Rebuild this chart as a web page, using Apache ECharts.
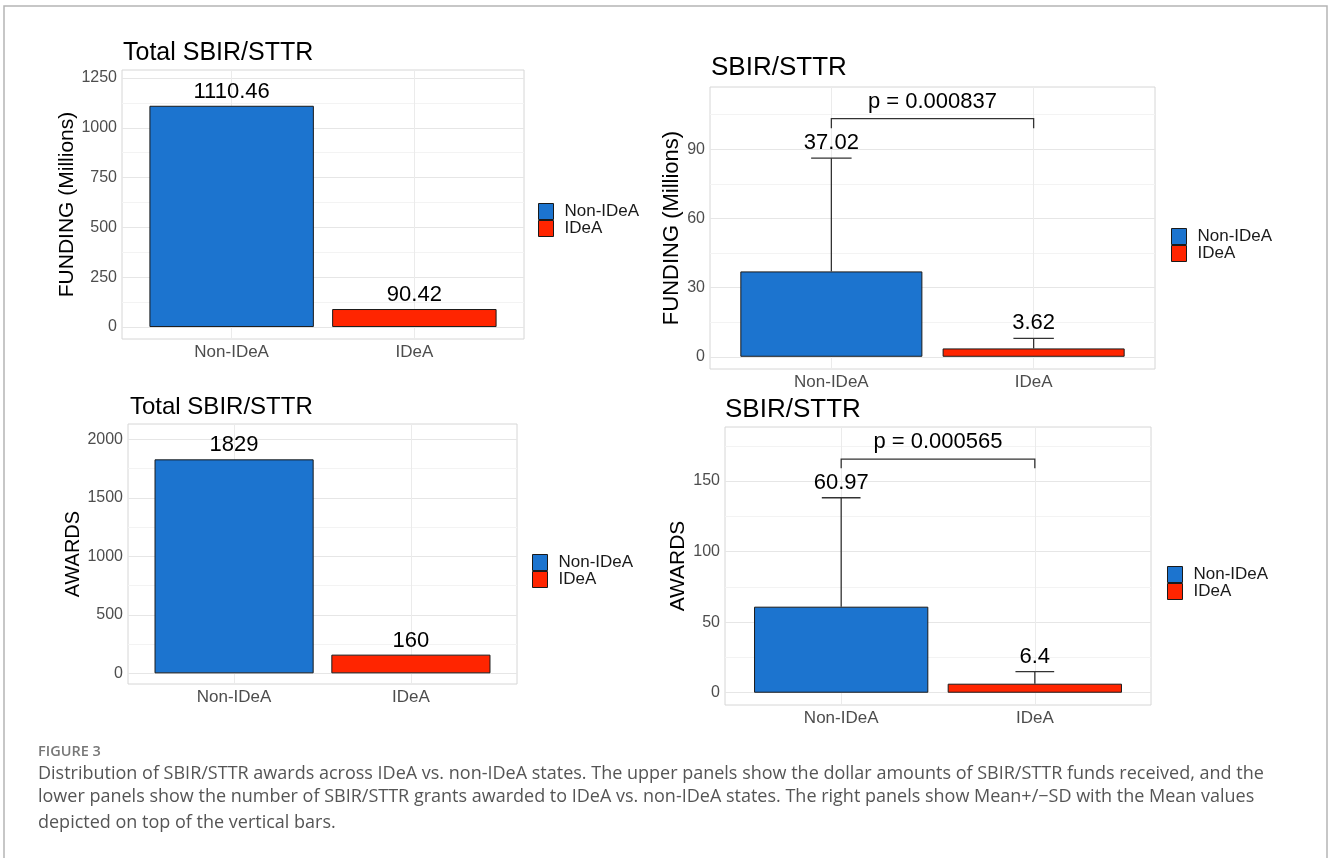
<!DOCTYPE html>
<html>
<head>
<meta charset="utf-8">
<title>SBIR/STTR IDeA vs non-IDeA</title>
<script src="https://cdn.jsdelivr.net/npm/echarts@6/dist/echarts.min.js"></script>
<style>
  html, body { margin: 0; padding: 0; background: #fff; }
  #main { width: 1328px; height: 858px; }
</style>
</head>
<body>
<div id="main"></div>
<script>
// groups on the x axis
var groups = ['Non-IDeA', 'IDeA'];

// left panels: totals
var totalFunding = [1110.46, 90.42];
var totalAwards = [1829, 160];

// right panels: mean and SD
var meanFunding = [37.02, 3.62];
var sdFunding = [49.1, 4.4];
var meanAwards = [60.97, 6.4];
var sdAwards = [77.2, 8.5];

// p-value brackets (tip, top) in data units
var pFunding = 'p = 0.000837';
var bracketFunding = [99.1, 103.3];
var pAwards = 'p = 0.000565';
var bracketAwards = [159, 165.6];

// tick labels (major) and all grid lines (major + minor)
var ticksTotalFunding = [0, 250, 500, 750, 1000, 1250];
var linesTotalFunding = [0, 125, 250, 375, 500, 625, 750, 875, 1000, 1125, 1250];
var ticksMeanFunding = [0, 30, 60, 90];
var linesMeanFunding = [0, 15, 30, 45, 60, 75, 90, 105];
var ticksTotalAwards = [0, 500, 1000, 1500, 2000];
var linesTotalAwards = [0, 250, 500, 750, 1000, 1250, 1500, 1750, 2000];
var ticksMeanAwards = [0, 50, 100, 150];
var linesMeanAwards = [0, 25, 50, 75, 100, 125, 150, 175];

var colors = ['#1c74cf', '#ff2500'];
var FONT = '"Liberation Sans", Arial, sans-serif';

var option = {
  animation: false,
  backgroundColor: '#fff',
  textStyle: { fontFamily: FONT },
  title: [],
  legend: [],
  grid: [],
  xAxis: [],
  yAxis: [],
  series: [],
  graphic: []
};

function addPanel(p) {
  var i = option.grid.length;
  option.grid.push({
    left: p.left, top: p.top, width: p.width, height: p.height,
    show: true, borderColor: '#d6d6d6', borderWidth: 1, backgroundColor: '#fff',
    containLabel: false, outerBoundsMode: 'none'
  });
  option.title.push({
    text: p.title, left: p.titleLeft, top: p.titleTop, padding: 0,
    textStyle: { fontSize: p.titleSize, fontWeight: 'normal', color: '#000', fontFamily: FONT }
  });
  option.legend.push({
    left: p.legendLeft, top: p.legendTop, orient: 'vertical', padding: 0,
    itemWidth: 15, itemHeight: 16, itemGap: 0, icon: 'rect', selectedMode: false,
    data: groups,
    itemStyle: { borderColor: '#1a1a1a', borderWidth: 1 },
    textStyle: { fontSize: 17, color: '#1a1a1a', lineHeight: 16, padding: [0, 0, 0, 6], fontFamily: FONT }
  });
  option.xAxis.push({
    gridIndex: i, type: 'value', min: 0.4, max: 2.6,
    axisLine: { show: false },
    axisTick: { show: false, customValues: [1, 2] },
    axisLabel: {
      customValues: [1, 2], margin: 5, fontSize: 17, color: '#4d4d4d',
      formatter: function (v) { return groups[Math.round(v) - 1]; }
    },
    splitLine: { show: true, lineStyle: { color: '#ebebeb', width: 1 } }
  });
  option.yAxis.push({
    gridIndex: i, type: 'value', min: p.min, max: p.max,
    name: p.yName, nameLocation: 'middle', nameGap: p.nameGap,
    nameTextStyle: { fontSize: p.nameSize, color: '#000', fontFamily: FONT },
    axisLine: { show: false },
    axisTick: { show: false, customValues: p.lines },
    axisLabel: {
      customValues: p.ticks, margin: 5, fontSize: 16, color: '#4d4d4d',
      formatter: function (v) { return String(v); }
    },
    splitLine: { show: true, lineStyle: { color: ['#e6e6e6', '#f3f3f3'], width: 1 } }
  });

  groups.forEach(function (g, k) {
    var s = {
      type: 'bar', name: g, xAxisIndex: i, yAxisIndex: i,
      data: [[k + 1, p.values[k]]],
      barWidth: '90%', barGap: '-100%',
      itemStyle: { color: colors[k], borderColor: '#1a1a1a', borderWidth: 1 }
    };
    if (!p.sd) {
      s.label = {
        show: true, position: 'top', distance: 3, fontSize: 22, color: '#000', fontFamily: FONT,
        formatter: function (d) { return String(d.value[1]); }
      };
    }
    option.series.push(s);
  });

  if (p.sd) {
    // error bars (mean to mean + SD) with the mean written above
    option.series.push({
      type: 'custom', xAxisIndex: i, yAxisIndex: i, z: 5, silent: true,
      data: groups.map(function (g, k) { return [k + 1, p.values[k], p.sd[k]]; }),
      renderItem: function (params, api) {
        var x = api.value(0), m = api.value(1), s = api.value(2);
        var base = api.coord([x, m]);
        var top = api.coord([x, m + s]);
        var l = api.coord([x - 0.1, m + s]);
        var r = api.coord([x + 0.1, m + s]);
        var st = { stroke: '#333', lineWidth: 1.3 };
        return {
          type: 'group', children: [
            { type: 'line', shape: { x1: base[0], y1: base[1], x2: top[0], y2: top[1] }, style: st },
            { type: 'line', shape: { x1: l[0], y1: l[1], x2: r[0], y2: r[1] }, style: st },
            { type: 'text', x: top[0], y: top[1] - 4,
              style: { text: String(m), fontSize: 22, fontFamily: FONT, fill: '#000', align: 'center', verticalAlign: 'bottom' } }
          ]
        };
      }
    });
    // significance bracket
    option.series.push({
      type: 'custom', xAxisIndex: i, yAxisIndex: i, z: 5, silent: true,
      data: [[1, 2, p.bracket[0], p.bracket[1]]],
      renderItem: function (params, api) {
        var a = api.coord([api.value(0), api.value(2)]);
        var b = api.coord([api.value(0), api.value(3)]);
        var c = api.coord([api.value(1), api.value(3)]);
        var d = api.coord([api.value(1), api.value(2)]);
        return {
          type: 'group', children: [
            { type: 'polyline', shape: { points: [a, b, c, d] }, style: { stroke: '#333', lineWidth: 1.3, fill: null } },
            { type: 'text', x: (b[0] + c[0]) / 2, y: b[1] - 6,
              style: { text: p.pText, fontSize: 22, fontFamily: FONT, fill: '#000', align: 'center', verticalAlign: 'bottom' } }
          ]
        };
      }
    });
  }
}

addPanel({
  title: 'Total SBIR/STTR', titleLeft: 123, titleTop: 41, titleSize: 25,
  left: 122, top: 70, width: 402, height: 269, min: -60, max: 1290,
  ticks: ticksTotalFunding, lines: linesTotalFunding,
  yName: 'FUNDING (Millions)', nameGap: 37, nameSize: 21,
  values: totalFunding, legendLeft: 538, legendTop: 203
});
addPanel({
  title: 'SBIR/STTR', titleLeft: 711, titleTop: 55, titleSize: 26,
  left: 710, top: 87, width: 445, height: 282, min: -5.3, max: 117,
  ticks: ticksMeanFunding, lines: linesMeanFunding,
  yName: 'FUNDING (Millions)', nameGap: 24, nameSize: 22,
  values: meanFunding, sd: sdFunding, bracket: bracketFunding, pText: pFunding,
  legendLeft: 1171, legendTop: 228
});
addPanel({
  title: 'Total SBIR/STTR', titleLeft: 130, titleTop: 395, titleSize: 24,
  left: 128, top: 424, width: 389, height: 260, min: -91, max: 2131,
  ticks: ticksTotalAwards, lines: linesTotalAwards,
  yName: 'AWARDS', nameGap: 35, nameSize: 20,
  values: totalAwards, legendLeft: 532, legendTop: 554
});
addPanel({
  title: 'SBIR/STTR', titleLeft: 725, titleTop: 397, titleSize: 26,
  left: 725, top: 427, width: 426, height: 278, min: -8.7, max: 188.3,
  ticks: ticksMeanAwards, lines: linesMeanAwards,
  yName: 'AWARDS', nameGap: 36, nameSize: 21,
  values: meanAwards, sd: sdAwards, bracket: bracketAwards, pText: pAwards,
  legendLeft: 1167, legendTop: 566
});

// figure frame and caption
var CAP = '"Open Sans", "Noto Sans", sans-serif';
option.graphic = [
  { type: 'polyline', silent: true, shape: { points: [[4, 858], [4, 6], [1327, 6], [1327, 858]] },
    style: { stroke: '#b5b5b5', lineWidth: 1.5, fill: null } },
  { type: 'text', left: 38, top: 744, style: { text: 'FIGURE 3', fontSize: 14.5, fontWeight: 600, fontFamily: CAP, fill: '#777' } },
  { type: 'text', left: 38, top: 765, style: { text: 'Distribution of SBIR/STTR awards across IDeA vs. non-IDeA states. The upper panels show the dollar amounts of SBIR/STTR funds received, and the', fontSize: 18, fontFamily: CAP, fill: '#555' } },
  { type: 'text', left: 38, top: 788, style: { text: 'lower panels show the number of SBIR/STTR grants awarded to IDeA vs. non-IDeA states. The right panels show Mean+/\u2212SD with the Mean values', fontSize: 18, fontFamily: CAP, fill: '#555' } },
  { type: 'text', left: 38, top: 814, style: { text: 'depicted on top of the vertical bars.', fontSize: 18, fontFamily: CAP, fill: '#555' } }
];

var chart = echarts.init(document.getElementById('main'));
chart.setOption(option);
</script>
</body>
</html>
